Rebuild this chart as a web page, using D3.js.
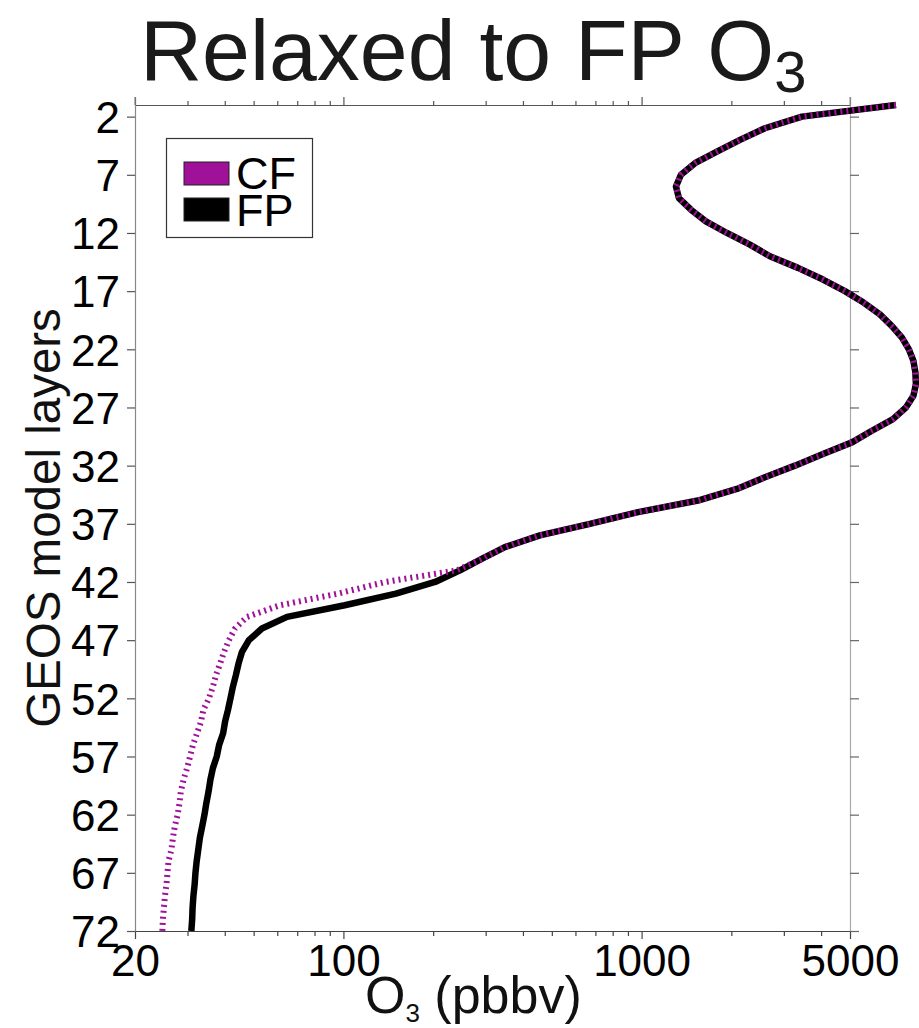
<!DOCTYPE html>
<html>
<head>
<meta charset="utf-8">
<script src="https://cdn.jsdelivr.net/npm/d3@7"></script>
<style>
  html, body { margin: 0; padding: 0; background: #fff; }
  svg { display: block; font-family: "Liberation Sans", Arial, sans-serif; }
</style>
</head>
<body>
<svg id="chart" width="919" height="1028"></svg>
<script>
// GEOS model layers (1 = top of the model, 72 = surface)
const layers = d3.range(1, 73);

// O3 (ppbv) per layer, FP analysis
const fpO3 = [
  7130, 3450, 2592, 2138, 1789, 1510, 1355, 1304, 1334, 1464,
  1643, 1933, 2308, 2694, 3346, 4058, 4808, 5568, 6300, 6912,
  7468, 7880, 8160, 8286, 8318, 8160, 7700, 6966, 5922, 5076,
  4058, 3268, 2592, 2088, 1545, 973, 671, 456, 348, 292,
  246, 203, 150, 101, 64.7, 53.3, 48.2, 45.7, 44.5, 43.6,
  42.6, 41.8, 41.0, 40.1, 39.5, 38.3, 37.6, 36.5, 35.8, 35.3,
  34.7, 34.2, 33.6, 33.0, 32.6, 32.2, 31.9, 31.7, 31.4, 31.2,
  31.1, 30.9
];

// O3 (ppbv) per layer, CF relaxed run
const cfO3 = [
  7130, 3450, 2592, 2138, 1789, 1510, 1355, 1304, 1334, 1464,
  1643, 1933, 2308, 2694, 3346, 4058, 4808, 5568, 6300, 6912,
  7468, 7880, 8160, 8286, 8318, 8160, 7700, 6966, 5922, 5076,
  4058, 3268, 2592, 2088, 1545, 973, 671, 456, 348, 292,
  240, 138, 95.9, 61.3, 47.5, 43.3, 41.3, 39.8, 38.6, 37.4,
  36.5, 35.4, 33.9, 33.3, 32.3, 31.3, 30.6, 29.9, 29.1, 28.5,
  28.2, 27.8, 27.2, 26.8, 26.5, 25.9, 25.7, 25.5, 25.2, 25.0,
  24.8, 24.7
];

const xMajorTicks = [20, 100, 1000, 5000];
const xMinorTicks = [30, 40, 50, 60, 70, 80, 90,
                     200, 300, 400, 500, 600, 700, 800, 900,
                     2000, 3000, 4000];
const yTicks = d3.range(2, 73, 5);

const seriesNames = ["CF", "FP"];
const seriesColors = ["#a0119a", "#000000"];

const svg = d3.select("#chart");
const plotL = 135, plotR = 850, plotT = 105, plotB = 931;

const x = d3.scaleLog().domain([20, 5000]).range([plotL, plotR]);
const y = d3.scaleLinear().domain([1, 72]).range([plotT, plotB]);

// Title
const title = svg.append("text")
  .attr("x", 140).attr("y", 80)
  .attr("font-size", 86).attr("fill", "#1a1a1a");
title.append("tspan").text("Relaxed to FP O");
title.append("tspan").attr("font-size", 58).attr("dy", 12).text("3");

// Axes
function styleAxis(g, color) {
  g.select(".domain").attr("stroke", color).attr("stroke-width", 1.2);
  g.selectAll(".tick line").attr("stroke", color).attr("stroke-width", 1.2);
  g.selectAll(".tick text").attr("fill", "#000");
}

// bottom: minor then major
svg.append("g").attr("transform", `translate(0,${plotB})`)
  .call(d3.axisBottom(x).tickValues(xMinorTicks).tickSize(5).tickSizeOuter(0).tickFormat(""))
  .call(g => styleAxis(g, "#444"));
svg.append("g").attr("transform", `translate(0,${plotB})`)
  .call(d3.axisBottom(x).tickValues(xMajorTicks).tickSize(8).tickSizeOuter(0).tickPadding(6)
        .tickFormat(d3.format("d")))
  .call(g => {
    styleAxis(g, "#444");
    g.selectAll(".tick text").attr("font-size", 44).attr("font-family", "Liberation Sans, Arial, sans-serif")
      .attr("dy", null).attr("y", 45);
  });

// top
svg.append("g").attr("transform", `translate(0,${plotT})`)
  .call(d3.axisTop(x).tickValues(xMinorTicks).tickSize(4).tickSizeOuter(0).tickFormat(""))
  .call(g => styleAxis(g, "#555"));
svg.append("g").attr("transform", `translate(0,${plotT})`)
  .call(d3.axisTop(x).tickValues(xMajorTicks).tickSize(8).tickSizeOuter(0).tickFormat(""))
  .call(g => styleAxis(g, "#555"));

// left
svg.append("g").attr("transform", `translate(${plotL},0)`)
  .call(d3.axisLeft(y).tickValues(yTicks).tickSize(8).tickSizeOuter(0).tickPadding(7)
        .tickFormat(d3.format("d")))
  .call(g => {
    styleAxis(g, "#888");
    g.selectAll(".tick line").attr("stroke", "#555");
    g.selectAll(".tick text").attr("font-size", 44).attr("font-family", "Liberation Sans, Arial, sans-serif")
      .attr("dy", "0.36em");
  });

// right
svg.append("g").attr("transform", `translate(${plotR},0)`)
  .call(d3.axisRight(y).tickValues(yTicks).tickSize(9).tickSizeOuter(0).tickFormat(""))
  .call(g => {
    styleAxis(g, "#aaa");
    g.selectAll(".tick line").attr("stroke", "#666");
  });

// extend left / right axis lines to the outward top ticks
svg.append("line").attr("x1", plotL).attr("x2", plotL).attr("y1", plotT - 8).attr("y2", plotT)
  .attr("stroke", "#888").attr("stroke-width", 1.2);
svg.append("line").attr("x1", plotR).attr("x2", plotR).attr("y1", plotT - 8).attr("y2", plotT)
  .attr("stroke", "#aaa").attr("stroke-width", 1.2);

// Axis titles
const xt = svg.append("text")
  .attr("x", 365).attr("y", 1013)
  .attr("font-size", 52).attr("fill", "#111");
xt.append("tspan").text("O");
xt.append("tspan").attr("font-size", 26).attr("dy", 9).text("3");
xt.append("tspan").attr("dy", -9).text(" (pbbv)");

svg.append("text")
  .attr("transform", `translate(60,${(plotT + plotB) / 2}) rotate(-90)`)
  .attr("text-anchor", "middle")
  .attr("font-size", 47.5).attr("fill", "#111")
  .text("GEOS model layers");

// Profiles
const line = d3.line()
  .x(d => x(d[1]))
  .y(d => y(d[0]));

const fpPts = layers.map((l, i) => [l, fpO3[i]]);
const cfPts = layers.map((l, i) => [l, cfO3[i]]);

svg.append("path").datum(fpPts)
  .attr("d", line).attr("fill", "none")
  .attr("stroke", seriesColors[1]).attr("stroke-width", 6.5)
  .attr("stroke-linejoin", "round");

svg.append("path").datum(cfPts)
  .attr("d", line).attr("fill", "none")
  .attr("stroke", seriesColors[0]).attr("stroke-width", 6)
  .attr("stroke-dasharray", "2,4");

// Legend
const lg = svg.append("g");
lg.append("rect").attr("x", 166.5).attr("y", 138.5).attr("width", 146).attr("height", 99)
  .attr("fill", "#fff").attr("stroke", "#333").attr("stroke-width", 1.2);
seriesNames.forEach((name, i) => {
  lg.append("rect").attr("x", 184).attr("y", 162 + i * 36).attr("width", 45).attr("height", 23)
    .attr("fill", seriesColors[i]).attr("stroke", "#222").attr("stroke-width", 1);
  lg.append("text").attr("x", 236).attr("y", 189 + i * 37)
    .attr("font-size", 45).attr("fill", "#000").text(name);
});
</script>
</body>
</html>
